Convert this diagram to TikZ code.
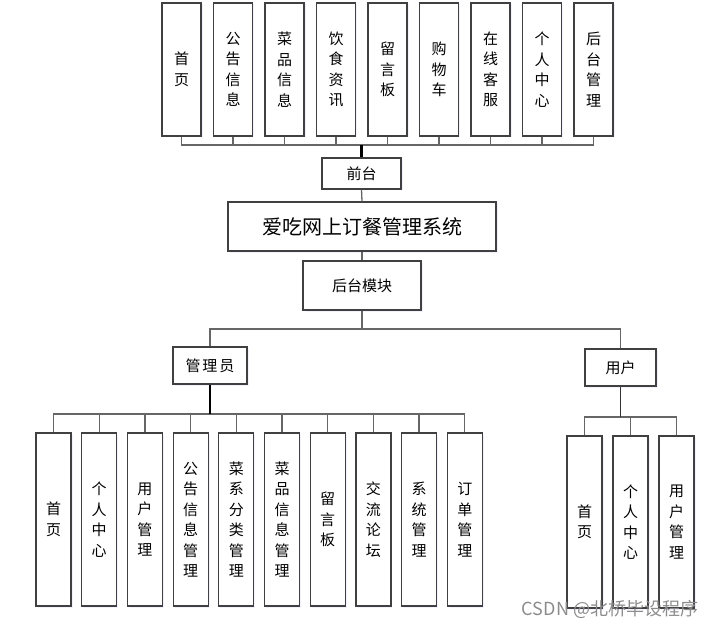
\documentclass[tikz,border=0pt]{standalone}
\usepackage{fontspec}
\setmainfont{Noto Sans CJK SC}
\usetikzlibrary{shadows}
\tikzset{
  bx/.style={draw=black!75, line width=1.2pt, fill=white, inner sep=0pt, align=center,
    drop shadow={opacity=0.25, fill=blue!20, shadow xshift=1.5pt, shadow yshift=-1.5pt},
    font=\fontsize{15}{20.5}\selectfont},
  topbox/.style={bx, minimum width=39pt, minimum height=133pt},
  admbox/.style={bx, minimum width=35pt, minimum height=173pt},
  usrbox/.style={bx, minimum width=35pt, minimum height=172pt},
  hbox/.style={bx},
  ln/.style={draw=black!60, line width=1.3pt},
  thick ln/.style={draw=black, line width=2.6pt},
}
\begin{document}
\begin{tikzpicture}[x=1pt,y=-1pt]
\useasboundingbox (0,0) rectangle (722,628);
% top row
\foreach \i/\t in {0/首\\页,1/公\\告\\信\\息,2/菜\\品\\信\\息,3/饮\\食\\资\\讯,4/留\\言\\板,5/购\\物\\车,6/在\\线\\客\\服,7/个\\人\\中\\心,8/后\\台\\管\\理}{
  \node[topbox] (t\i) at ({181.5+51.5*\i},69.5) {\t};
}
\node[hbox, minimum width=79pt, minimum height=31pt] (qt) at (361.5,173.5) {前台};
\node[hbox, minimum width=268pt, minimum height=49pt, font=\fontsize{20}{24}\selectfont] (main) at (362,226.5) {爱吃网上订餐管理系统};
\node[hbox, minimum width=118pt, minimum height=49pt] (hm) at (362,285.5) {后台模块};
\node[hbox, minimum width=74pt, minimum height=37pt] (adm) at (210,365.5) {管\kern2pt 理\kern2pt 员};
\node[hbox, minimum width=71pt, minimum height=37pt] (usr) at (620.5,367.5) {用户};
% admin children
\foreach \i/\t in {0/首\\页,1/个\\人\\中\\心,2/用\\户\\管\\理,3/公\\告\\信\\息\\管\\理,4/菜\\系\\分\\类\\管\\理,5/菜\\品\\信\\息\\管\\理,6/留\\言\\板,7/交\\流\\论\\坛,8/系\\统\\管\\理,9/订\\单\\管\\理}{
  \node[admbox] (a\i) at ({53.5+45.7*\i},519.5) {\t};
}
% user children
\foreach \i/\t in {0/首\\页,1/个\\人\\中\\心,2/用\\户\\管\\理}{
  \node[usrbox] (u\i) at ({584.5+46*\i},522) {\t};
}
% connectors
\coordinate (busT) at (361.5,145);
\foreach \i in {0,...,8}{ \draw[ln] (t\i.south) |- (busT); }
\draw[thick ln] (busT) -- (qt.north);
\draw[ln] (qt.south) -- (main.north);
\draw[ln] (main.south) -- (hm.north);
\coordinate (busM) at (362,329);
\draw[ln] (hm.south) -- (busM);
\draw[ln] (busM) -| (adm.north);
\draw[ln] (busM) -| (usr.north);
\coordinate (busA) at (210,414);
\foreach \i in {0,...,9}{ \draw[ln] (a\i.north) |- (busA); }
\draw[thick ln] (adm.south) -- (busA);
\coordinate (busU) at (620.5,417);
\foreach \i in {0,...,2}{ \draw[ln] (u\i.north) |- (busU); }
\draw[ln, draw=black!80] (usr.south) -- (busU);
% watermark
\node[text=black!45, font=\fontsize{18}{20}\selectfont, inner sep=0pt] (wm) at (610,609) {CSDN @北桥毕设程序};
\end{tikzpicture}
\end{document}
